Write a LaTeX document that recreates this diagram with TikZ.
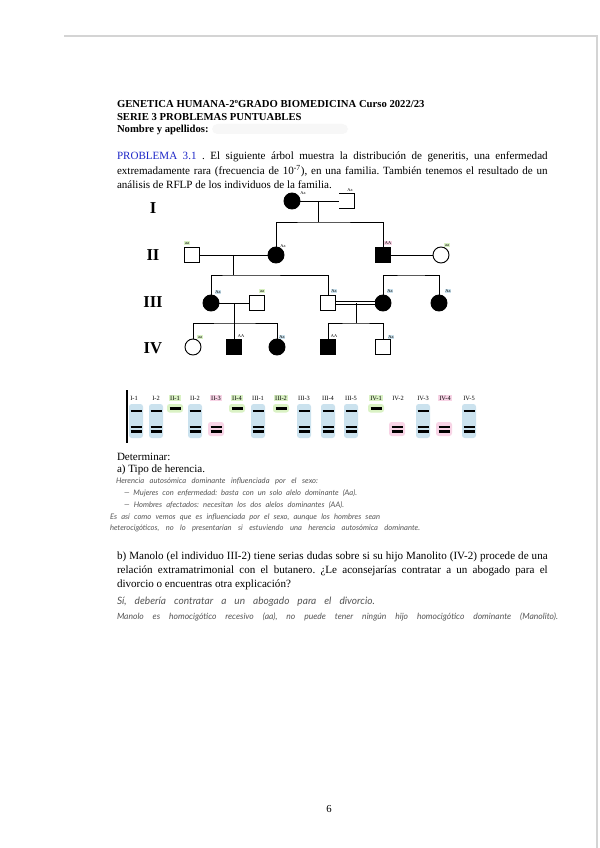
\documentclass[tikz,border=0pt]{standalone}
\usepackage{fontspec}
\setmainfont{Liberation Serif}
\newfontfamily\hand{Lato}
\definecolor{hlblue}{RGB}{203,226,238}
\definecolor{hlgreen}{RGB}{218,242,196}
\definecolor{hlpink}{RGB}{248,212,230}
\definecolor{probblue}{RGB}{30,40,200}
\definecolor{pagegray}{RGB}{212,212,212}
\definecolor{handgray}{RGB}{85,85,85}
\frenchspacing
\begin{document}
\begin{tikzpicture}[x=0.75pt,y=-0.75pt,
  every node/.style={inner sep=0pt, outer sep=0pt},
  txt/.style={anchor=base west, font=\fontsize{8.3}{10}\selectfont},
  hdr/.style={anchor=base west, font=\fontsize{8}{10}\selectfont\bfseries},
  handw/.style={anchor=base west, text=handgray, font=\hand\itshape\fontsize{5.7}{6}\selectfont},
  handb/.style={anchor=base west, text=handgray, font=\hand\itshape\fontsize{7.6}{8}\selectfont},
  handc/.style={anchor=base west, text=handgray, font=\hand\itshape\fontsize{6.4}{7}\selectfont},
  fem/.style={circle, draw, line width=0.7pt, minimum size=12pt},
  mal/.style={rectangle, draw, line width=0.7pt, minimum size=11.5pt},
  aff/.style={fill=black},
  gen/.style={font=\fontsize{12.5}{14}\selectfont\bfseries},
  geno/.style={font=\fontsize{3.3}{4}\selectfont, inner sep=0.5pt},
  gellab/.style={font=\fontsize{4.8}{5}\selectfont, inner sep=0.6pt},
  band/.style={line width=1.6pt},
  ped/.style={line width=0.7pt},
]
\useasboundingbox (0,0) rectangle (599,848);
\fill[white] (0,0) rectangle (599,848);
% page frame
\draw[pagegray, line width=1pt] (64,36) -- (597,36) -- (597,848);

% header
\node[hdr] (h1) at (117,107.5) {GENETICA HUMANA-2ºGRADO BIOMEDICINA Curso 2022/23};
\node[hdr] (h2) at (117,120.5) {SERIE 3 PROBLEMAS PUNTUABLES};
\node[hdr] (h3) at (117,132.5) {Nombre y apellidos:};
\fill[gray!6, rounded corners=4pt] (212,124) rectangle (348,134);

% problem statement
\node[txt] (p1) at (117,160) {\makebox[323pt][s]{\textcolor{probblue}{PROBLEMA 3.1} . El siguiente árbol muestra la distribución de generitis, una enfermedad}};
\node[txt] (p2) at (117,174.5) {\makebox[323pt][s]{extremadamente rara (frecuencia de 10\textsuperscript{-7}), en una familia. También tenemos el resultado de un}};
\node[txt] (p3) at (117,189) {análisis de RFLP de los individuos de la familia.};

% generation labels
\node[gen] (gI) at (153,208) {I};
\node[gen] (gII) at (153,255) {II};
\node[gen] (gIII) at (153,302) {III};
\node[gen] (gIV) at (153,348) {IV};

% generation I
\node[fem, aff] (i1) at (292,201) {};
\node[minimum size=11.5pt] (i2) at (347,201) {};
\draw[ped] (i2.north west) -- (i2.north east) -- (i2.south east) -- (i2.south west);
% generation II
\node[mal] (ii1) at (192,255) {};
\node[fem, aff] (ii2) at (276,255) {};
\node[mal, aff] (ii3) at (383,255) {};
\node[fem] (ii4) at (441,255) {};
% generation III
\node[fem, aff] (iii1) at (211,303) {};
\node[mal] (iii2) at (257,303) {};
\node[mal] (iii3) at (328,303) {};
\node[fem, aff] (iii4) at (383,303) {};
\node[fem, aff] (iii5) at (439,303) {};
% generation IV
\node[fem] (iv1) at (193,347) {};
\node[mal, aff] (iv2) at (234,347) {};
\node[fem, aff] (iv3) at (277,347) {};
\node[mal, aff] (iv4) at (328,347) {};
\node[mal] (iv5) at (383,347) {};

% coordinates
\coordinate (m1) at (318,201);
\coordinate (s1) at (318,222);
\coordinate (m2) at (233,255);
\coordinate (s2) at (233,275);
\coordinate (s3) at (411,275);
\coordinate (m4) at (234,303);
\coordinate (s4) at (234,323);
\coordinate (m5) at (356,303);
\coordinate (s5) at (356,323);

% connectors
\draw[ped] (i1) -- (i2.west);
\draw[ped] (m1) -- (s1);
\draw[ped] (ii2.north) |- (s1) -| (ii3.north);
\draw[ped] (ii1) -- (ii2);
\draw[ped] (ii3) -- (ii4);
\draw[ped] (m2) -- (s2);
\draw[ped] (iii1.north) |- (s2) -| (iii3.north);
\draw[ped] (iii4.north) |- (s3) -| (iii5.north);
\draw[ped] (iii1) -- (iii2);
\draw[ped, double, double distance=1.6pt] (iii3) -- (iii4);
\draw[ped] (m4) -- (iv2.north);
\draw[ped] (iv1.north) |- (s4) -| (iv3.north);
\draw[ped] (m5) -- (s5);
\draw[ped] (iv4.north) |- (s5) -| (iv5.north);

% genotype labels
\node[geno] (li1) at (303,193) {Aa};
\node[geno] (li2) at (350,190) {Aa};
\node[geno, fill=hlgreen] (lii1) at (187,243) {aa};
\node[geno] (lii2) at (283,246) {Aa};
\node[geno, fill=hlpink] (lii3) at (388,243) {AA};
\node[geno, fill=hlgreen] (lii4) at (447,245) {aa};
\node[geno, fill=hlblue] (liii1) at (218,292) {Aa};
\node[geno, fill=hlgreen] (liii2) at (262,291) {aa};
\node[geno, fill=hlblue] (liii3) at (334,291) {Aa};
\node[geno, fill=hlblue] (liii4) at (390,291) {Aa};
\node[geno, fill=hlblue] (liii5) at (448,291) {Aa};
\node[geno, fill=hlgreen] (liv1) at (200,337) {aa};
\node[geno] (liv2) at (241,336) {AA};
\node[geno, fill=hlblue] (liv3) at (282,337) {Aa};
\node[geno] (liv4) at (334,336) {AA};
\node[geno, fill=hlblue] (liv5) at (391,337) {Aa};

% RFLP gel
\draw[line width=0.9pt] (127,390) -- (127,443);
\foreach \x in {136,156,195,258,304,328,351,423,469} {
  \fill[hlblue, rounded corners=2pt] (\x-7,404) rectangle (\x+7,438);
}
\foreach \x in {175,237,281,376} {
  \fill[hlgreen, rounded corners=2pt] (\x-8,404) rectangle (\x+8,412.5);
}
\foreach \x in {216,397,444} {
  \fill[hlpink, rounded corners=2pt] (\x-8,422) rectangle (\x+8,436);
}
\foreach \x in {136,156,195,258,304,328,351,423,469} {
  \draw[band] (\x-5.5,411) -- (\x+5.5,411);
  \draw[band] (\x-5.5,427) -- (\x+5.5,427);
  \draw[band] (\x-5.5,431.5) -- (\x+5.5,431.5);
}
\foreach \x in {175,237,281,376} {
  \draw[band] (\x-5.5,408.5) -- (\x+5.5,408.5);
}
\foreach \x in {216,397,444} {
  \draw[band] (\x-5.5,427) -- (\x+5.5,427);
  \draw[band] (\x-5.5,431.5) -- (\x+5.5,431.5);
}
\foreach \x/\lab/\c [count=\i] in {134/I-1/white, 156/I-2/white, 175/II-1/hlgreen, 195/II-2/white, 216/II-3/hlpink, 237/II-4/hlgreen, 258/III-1/white, 281/III-2/hlgreen, 304/III-3/white, 328/III-4/white, 351/III-5/white, 376/IV-1/hlgreen, 398/IV-2/white, 423/IV-3/white, 445/IV-4/hlpink, 469/IV-5/white} {
  \node[gellab, fill=\c] (gl\i) at (\x,398) {\lab};
}

% questions
\node[txt] (d1) at (117,460) {Determinar:};
\node[txt] (d2) at (117,472.5) {a) Tipo de herencia.};

\node[handw] (a1) at (116,483) {\makebox[151.5pt][s]{Herencia autosómica dominante influenciada por el sexo:}};
\node[handw] (a2) at (124,495) {\makebox[174.75pt][s]{— Mujeres con enfermedad: basta con un solo alelo dominante (Aa).}};
\node[handw] (a3) at (124,507) {\makebox[165pt][s]{— Hombres afectados: necesitan los dos alelos dominantes (AA).}};
\node[handw] (a4) at (110,519.5) {\makebox[202.5pt][s]{Es así como vemos que es influenciada por el sexo, aunque los hombres sean}};
\node[handw] (a5) at (110,530) {\makebox[232.5pt][s]{heterocigóticos, no lo presentarían si estuviendo una herencia autosómica dominante.}};

\node[txt] (b1) at (117,559) {\makebox[323pt][s]{b) Manolo (el individuo III-2) tiene serias dudas sobre si su hijo Manolito (IV-2) procede de una}};
\node[txt] (b2) at (117,573) {\makebox[323pt][s]{relación extramatrimonial con el butanero. ¿Le aconsejarías contratar a un abogado para el}};
\node[txt] (b3) at (117,587) {divorcio o encuentras otra explicación?};

\node[handb] (r1) at (117,604) {\makebox[193.5pt][s]{Sí, debería contratar a un abogado para el divorcio.}};
\node[handc] (r2) at (117,619) {\makebox[330.75pt][s]{Manolo es homocigótico recesivo (aa), no puede tener ningún hijo homocigótico dominante (Manolito).}};

% page number
\node[font=\fontsize{8}{10}\selectfont] (pn) at (329,809) {6};
\end{tikzpicture}
\end{document}
